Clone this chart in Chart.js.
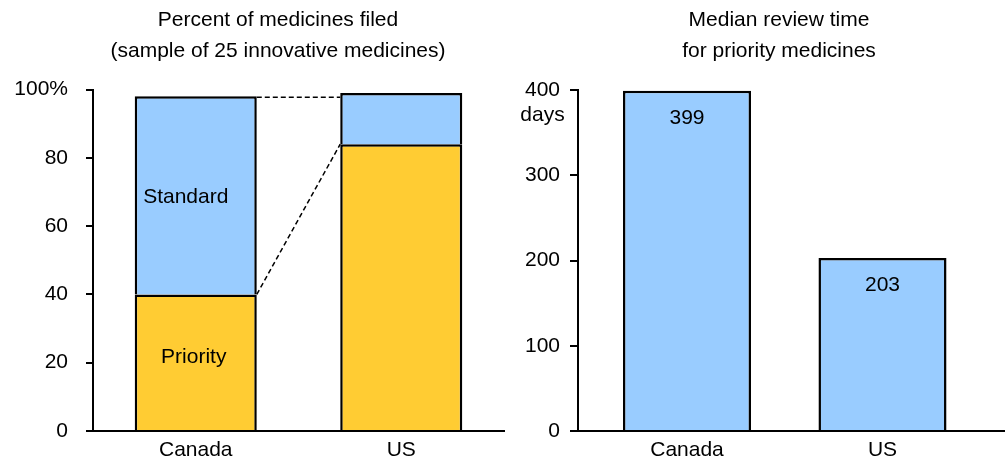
<!DOCTYPE html>
<html>
<head>
<meta charset="utf-8">
<script src="https://cdn.jsdelivr.net/npm/chart.js@4.4.1/dist/chart.umd.min.js"></script>
<style>
  html, body { margin: 0; padding: 0; background: #fff; overflow: hidden; }
  #wrap { position: relative; width: 1005px; height: 462px; }
  #filedChart { position: absolute; left: 0; top: 0; }
  #reviewChart { position: absolute; left: 518px; top: 0; }
</style>
</head>
<body>
<div id="wrap">
  <canvas id="filedChart" width="556" height="462"></canvas>
  <canvas id="reviewChart" width="522" height="462"></canvas>
</div>
<script>
// data
const countries = ['Canada', 'US'];
const priorityShare = [40, 84];   // % of sampled medicines filed as priority
const standardShare = [58, 15];   // % filed as standard
const reviewDays = [399, 203];    // median review time, priority medicines
const shareTicks = [0, 20, 40, 60, 80, 100];
const dayTicks = [0, 100, 200, 300, 400];

const BLUE = '#99ccff';
const YELLOW = '#ffcc33';
const FAMILY = '"Liberation Sans", Arial, Helvetica, sans-serif';
const SIZE = 21;

Chart.defaults.font.family = FAMILY;
Chart.defaults.font.size = SIZE;
Chart.defaults.color = '#000';

// two-line heading centred on the canvas
const headline = {
  id: 'headline',
  afterDraw(chart, args, opts) {
    const ctx = chart.ctx;
    ctx.save();
    ctx.fillStyle = '#000';
    ctx.font = SIZE + 'px ' + FAMILY;
    ctx.textAlign = 'center';
    ctx.textBaseline = 'middle';
    opts.lines.forEach((t, i) => ctx.fillText(t, chart.width / 2, opts.top + i * opts.gap));
    ctx.restore();
  }
};

// y axis: only outward tick marks
function yAxis(tickList, axisWidth, tickLen, pad, fmt) {
  return {
    min: tickList[0],
    max: tickList[tickList.length - 1],
    afterBuildTicks: s => { s.ticks = tickList.map(v => ({ value: v })); },
    afterFit: s => { s.width = axisWidth; },
    grid: { drawOnChartArea: false, color: '#000', lineWidth: 2, tickLength: tickLen },
    border: { color: '#000', width: 2 },
    ticks: { padding: pad, color: '#000', callback: fmt || (v => v) }
  };
}

function xAxis(extra) {
  return Object.assign({
    grid: { display: false, drawTicks: false },
    border: { color: '#000', width: 2 },
    afterFit: s => { s.height = 31; },
    ticks: { padding: 7, color: '#000' }
  }, extra);
}

// dashed lines linking the Canada and US segment tops
const connectors = {
  id: 'connectors',
  afterDatasetsDraw(chart) {
    const pri = chart.getDatasetMeta(0).data;
    const std = chart.getDatasetMeta(1).data;
    const ctx = chart.ctx;
    ctx.save();
    ctx.strokeStyle = '#000';
    ctx.lineWidth = 1.5;
    ctx.setLineDash([5, 3]);
    ctx.beginPath();
    ctx.moveTo(std[0].x + std[0].width / 2, std[0].y + 1);
    ctx.lineTo(std[1].x - std[1].width / 2, std[0].y + 1);
    ctx.moveTo(pri[0].x + pri[0].width / 2, pri[0].y);
    ctx.lineTo(pri[1].x - pri[1].width / 2, pri[1].y);
    ctx.stroke();
    ctx.restore();
  }
};

// "Standard" / "Priority" names inside the Canada bar
const segmentLabels = {
  id: 'segmentLabels',
  afterDatasetsDraw(chart) {
    const ctx = chart.ctx;
    const shifts = [[-2, -5], [-10, 2]];
    ctx.save();
    ctx.fillStyle = '#000';
    ctx.font = SIZE + 'px ' + FAMILY;
    ctx.textAlign = 'center';
    ctx.textBaseline = 'middle';
    chart.data.datasets.forEach((ds, i) => {
      const bar = chart.getDatasetMeta(i).data[0];
      ctx.fillText(ds.label, bar.x + shifts[i][0], (bar.y + bar.base) / 2 + shifts[i][1]);
    });
    ctx.restore();
  }
};

new Chart(document.getElementById('filedChart'), {
  type: 'bar',
  data: {
    labels: countries,
    datasets: [
      { label: 'Priority', data: priorityShare, backgroundColor: YELLOW, borderColor: '#000', borderWidth: 2.5 },
      { label: 'Standard', data: standardShare, backgroundColor: BLUE, borderColor: '#000', borderWidth: 2.5 }
    ]
  },
  options: {
    responsive: false,
    animation: false,
    devicePixelRatio: 1,
    layout: { padding: { top: 89.5, right: 52 } },
    datasets: { bar: { categoryPercentage: 1, barPercentage: 0.594 } },
    plugins: {
      legend: { display: false },
      tooltip: { enabled: false },
      headline: { lines: ['Percent of medicines filed', '(sample of 25 innovative medicines)'], top: 20, gap: 31 }
    },
    scales: {
      x: xAxis({ stacked: true }),
      y: Object.assign(yAxis(shareTicks, 93, 7, 18, v => v === 100 ? '100%' : v), { stacked: true })
    }
  },
  plugins: [headline, connectors, segmentLabels]
});

// value labels and the unit under the top tick
const reviewText = {
  id: 'reviewText',
  afterDatasetsDraw(chart) {
    const ctx = chart.ctx;
    ctx.save();
    ctx.fillStyle = '#000';
    ctx.font = SIZE + 'px ' + FAMILY;
    ctx.textAlign = 'center';
    ctx.textBaseline = 'middle';
    chart.getDatasetMeta(0).data.forEach((bar, i) => {
      ctx.fillText(String(reviewDays[i]), bar.x, bar.y + 27);
    });
    const y = chart.scales.y;
    const top = dayTicks[dayTicks.length - 1];
    const w = ctx.measureText(String(top)).width;
    ctx.fillText('days', chart.chartArea.left - 18 - w / 2, y.getPixelForValue(top) + 25);
    ctx.restore();
  }
};

new Chart(document.getElementById('reviewChart'), {
  type: 'bar',
  data: {
    datasets: [{
      label: 'Median review time',
      data: reviewDays.map((d, i) => ({ x: i, y: d })),
      backgroundColor: BLUE,
      borderColor: '#000',
      borderWidth: 2.5,
      categoryPercentage: 1,
      barPercentage: 0.655
    }]
  },
  options: {
    responsive: false,
    animation: false,
    devicePixelRatio: 1,
    layout: { padding: { top: 90, right: 35 } },
    plugins: {
      legend: { display: false },
      tooltip: { enabled: false },
      headline: { lines: ['Median review time', 'for priority medicines'], top: 20, gap: 31 }
    },
    scales: {
      x: xAxis({
        type: 'linear',
        offset: false,
        min: -0.5575,
        max: 1.6266,
        afterBuildTicks: s => { s.ticks = countries.map((c, i) => ({ value: i })); },
        ticks: { padding: 7, color: '#000', callback: v => countries[v] }
      }),
      y: yAxis(dayTicks, 60, 8, 10)
    }
  },
  plugins: [headline, reviewText]
});
</script>
</body>
</html>
